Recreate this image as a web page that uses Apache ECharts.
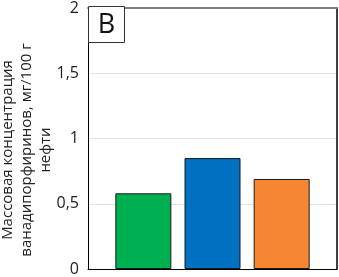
<!DOCTYPE html>
<html>
<head>
<meta charset="utf-8">
<script src="https://cdn.jsdelivr.net/npm/echarts@6/dist/echarts.min.js"></script>
<style>
  html, body { margin: 0; padding: 0; background: #fff; }
  #chart { width: 339px; height: 277px; }
</style>
</head>
<body>
<div id="chart"></div>
<script>
// bar positions on a value x-axis, concentration values
const positions = [1, 2, 3]
const values = [0.58, 0.85, 0.69]
const colors = ['#00b050', '#0070c0', '#f58634']
const yTicks = { min: 0, max: 2, step: 0.5 }
const yTitle = 'Массовая концентрация\nванадипорфиринов, мг/100 г\nнефти'
const panelLabel = 'B'

const font = '"Open Sans", sans-serif'

const chart = echarts.init(document.getElementById('chart'))

chart.setOption({
  animation: false,
  grid: { left: 88, right: 2, top: 6, bottom: 7 },
  xAxis: [
    {
      type: 'value',
      min: 0.2,
      max: 3.8,
      position: 'bottom',
      axisLine: { show: true, onZero: false, lineStyle: { color: '#000', width: 1 } },
      axisTick: { show: false },
      axisLabel: { show: false },
      splitLine: { show: false },
    },
    {
      type: 'value',
      min: 0.2,
      max: 3.8,
      position: 'top',
      axisLine: { show: true, onZero: false, lineStyle: { color: '#808080', width: 2 } },
      axisTick: { show: false },
      axisLabel: { show: false },
      splitLine: { show: false },
    },
  ],
  yAxis: [
    {
      type: 'value',
      min: yTicks.min,
      max: yTicks.max,
      interval: yTicks.step,
      axisLine: { show: true, onZero: false, lineStyle: { color: '#000', width: 1 } },
      axisTick: { show: false },
      axisLabel: {
        color: '#222',
        fontSize: 16,
        fontFamily: font,
        margin: 9,
        formatter: (v) => String(v).replace('.', ','),
      },
      splitLine: { lineStyle: { color: '#e3e3e3', width: 1 } },
    },
    {
      type: 'value',
      min: yTicks.min,
      max: yTicks.max,
      position: 'right',
      axisLine: { show: true, onZero: false, lineStyle: { color: '#000', width: 1.5 } },
      axisTick: { show: false },
      axisLabel: { show: false },
      splitLine: { show: false },
    },
  ],
  graphic: [
    {
      type: 'text',
      x: 27,
      y: 150,
      rotation: Math.PI / 2,
      style: {
        text: yTitle,
        fill: '#222',
        font: '15px ' + font,
        lineHeight: 19,
        align: 'center',
        verticalAlign: 'middle',
      },
    },
    {
      type: 'rect',
      shape: { x: 88.5, y: 6.5, width: 36, height: 36 },
      style: { fill: '#fff', stroke: '#333', lineWidth: 1 },
      z: 10,
    },
    {
      type: 'text',
      x: 106.5,
      y: 25,
      style: {
        text: panelLabel,
        fill: '#111',
        font: '27px ' + font,
        align: 'center',
        verticalAlign: 'middle',
      },
      z: 11,
    },
  ],
  series: [
    {
      type: 'bar',
      xAxisIndex: 0,
      yAxisIndex: 0,
      barWidth: 56,
      data: positions.map((p, i) => ({
        value: [p, values[i]],
        itemStyle: { color: colors[i] },
      })),
      itemStyle: { borderColor: '#1a1a1a', borderWidth: 1 },
    },
  ],
})
</script>
</body>
</html>
